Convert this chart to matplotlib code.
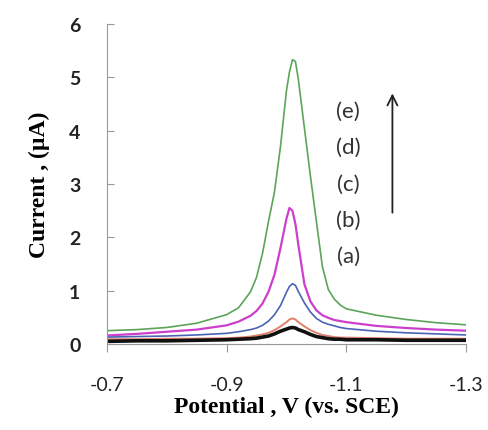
import matplotlib
matplotlib.use("Agg")
import matplotlib.pyplot as plt

# potential grid (V vs SCE) and currents (uA)
potential = [-0.70, -0.75, -0.80, -0.85, -0.90, -0.92, -0.94, -0.95, -0.96,
             -0.97, -0.98, -0.99, -1.00, -1.005, -1.01, -1.015, -1.02, -1.03,
             -1.04, -1.05, -1.06, -1.07, -1.08, -1.09, -1.10, -1.15, -1.20,
             -1.25, -1.30]

curve_a = [0.05, 0.06, 0.06, 0.07, 0.08, 0.09, 0.10, 0.11, 0.13,
           0.15, 0.19, 0.24, 0.28, 0.30, 0.31, 0.30, 0.27, 0.23,
           0.18, 0.14, 0.12, 0.10, 0.09, 0.09, 0.08, 0.08, 0.07,
           0.07, 0.07]
curve_b = [0.09, 0.09, 0.10, 0.10, 0.11, 0.12, 0.14, 0.16, 0.18,
           0.21, 0.26, 0.33, 0.41, 0.46, 0.48, 0.46, 0.41, 0.33,
           0.26, 0.21, 0.17, 0.15, 0.13, 0.12, 0.12, 0.11, 0.10,
           0.10, 0.10]
curve_c = [0.13, 0.14, 0.15, 0.17, 0.20, 0.23, 0.27, 0.30, 0.35,
           0.43, 0.55, 0.72, 0.97, 1.08, 1.13, 1.10, 0.98, 0.77,
           0.60, 0.48, 0.41, 0.37, 0.34, 0.31, 0.29, 0.24, 0.21,
           0.19, 0.17]
curve_d = [0.16, 0.19, 0.23, 0.27, 0.35, 0.42, 0.53, 0.62, 0.76,
           0.98, 1.30, 1.80, 2.35, 2.55, 2.50, 2.25, 1.85, 1.12,
           0.80, 0.63, 0.54, 0.49, 0.45, 0.43, 0.41, 0.34, 0.30,
           0.27, 0.25]
curve_e = [0.25, 0.27, 0.31, 0.39, 0.55, 0.68, 0.98, 1.25, 1.70,
           2.30, 2.85, 3.70, 4.75, 5.10, 5.33, 5.30, 4.95, 4.05,
           3.15, 2.30, 1.45, 1.02, 0.84, 0.73, 0.66, 0.54, 0.46,
           0.40, 0.36]

labels = ["(e)", "(d)", "(c)", "(b)", "(a)"]
xticks = [-0.7, -0.9, -1.1, -1.3]
yticks = [0, 1, 2, 3, 4, 5, 6]

fig = plt.figure(figsize=(4.88, 4.31), dpi=100)
ax = fig.add_axes([0.219, 0.1995, 0.736, 0.7425])

kw = dict(solid_joinstyle="round")
ax.plot(potential, curve_e, color="#5aa55a", lw=1.2, **kw)
ax.plot(potential, curve_d, color="#cc3fcc", lw=1.6, **kw)
ax.plot(potential, curve_c, color="#4a64b4", lw=1.2, **kw)
ax.plot(potential, curve_b, color="#e0806c", lw=1.4, **kw)
ax.plot(potential, curve_a, color="#111111", lw=2.6, **kw)

ax.set_xlim(-0.7, -1.3)
ax.set_ylim(0, 6)
ax.set_xticks(xticks)
ax.set_xticklabels(["%.1f" % v for v in xticks], fontfamily="Lato",
                   fontsize=14, color="#222222")
ax.set_yticks(yticks)
ax.set_yticklabels([str(v) for v in yticks], fontfamily="Lato",
                   fontweight="bold", fontsize=14, color="#222222")
ax.tick_params(axis="x", direction="out", length=6, color="#999999", pad=17)
ax.tick_params(axis="y", direction="in", length=5, color="#999999", pad=19)

for s in ["top", "right"]:
    ax.spines[s].set_visible(False)
for s in ["left", "bottom"]:
    ax.spines[s].set_color("#999999")

ax.set_xlabel("Potential , V (vs. SCE)", fontfamily="Liberation Serif",
              fontweight="bold", fontsize=17, labelpad=2)
ax.set_ylabel("Current , (\u00b5A)", fontfamily="Liberation Serif",
              fontweight="bold", fontsize=17, labelpad=14)

# curve labels and arrow
for i, t in enumerate(labels):
    ax.text(-1.103, 4.37 - i * 0.68, t, fontfamily="Lato", fontsize=16,
            color="#333333", ha="center", va="center")
ax.annotate("", xy=(-1.177, 4.75), xytext=(-1.177, 2.41),
            arrowprops=dict(arrowstyle="->", color="#222222", lw=1.3,
                            mutation_scale=18))

plt.savefig("out.png", dpi=100)
